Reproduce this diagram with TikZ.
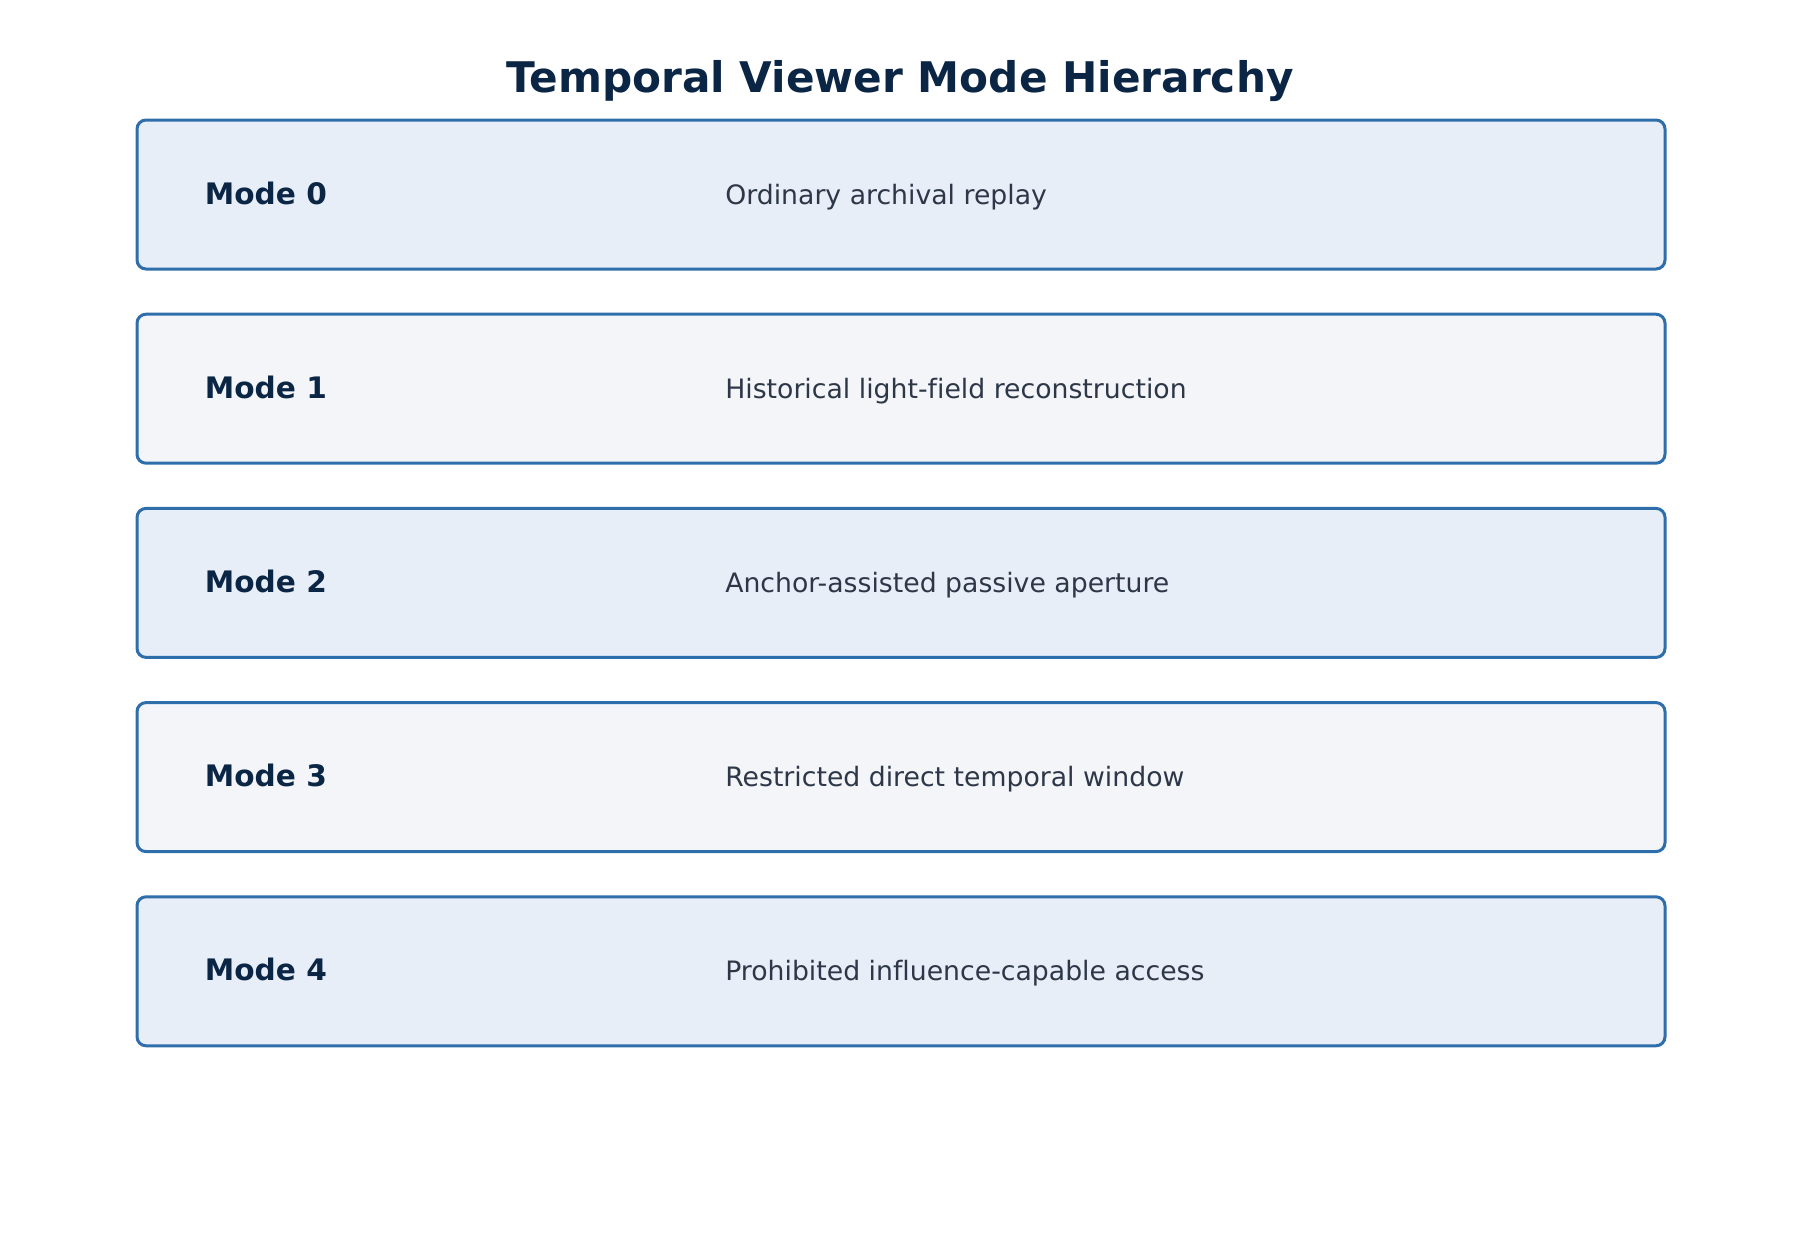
\documentclass[tikz,border=0pt]{standalone}
\usepackage{fontspec}
\setmainfont[Ligatures=NoCommon]{DejaVu Sans}
\usetikzlibrary{positioning}

\definecolor{titleblue}{HTML}{0B2545}
\definecolor{boxedge}{HTML}{2E6EAB}
\definecolor{fillA}{HTML}{E8EEF7}
\definecolor{fillB}{HTML}{F3F5F9}
\definecolor{desctext}{HTML}{2D3748}

\tikzset{
  modebox/.style={draw=boxedge, line width=1.5pt, rounded corners=4.5pt,
    minimum width=764pt, minimum height=74.5pt, inner sep=0pt},
  modelabel/.style={anchor=west, inner sep=0pt, text=titleblue,
    text height=0.71em, text depth=0em, yshift=-1.2pt,
    font=\fontsize{14.8}{17}\selectfont\bfseries},
  modedesc/.style={anchor=west, inner sep=0pt, text=desctext,
    text height=0.71em, text depth=0em, yshift=-1.2pt,
    font=\fontsize{13.35}{16}\selectfont}
}

\begin{document}
\begin{tikzpicture}[x=0.5pt,y=-0.5pt]
        \useasboundingbox (0,0) rectangle (1800,1254);
        % draw title
        \node[text=titleblue, font=\fontsize{21.1}{25}\selectfont\bfseries] (title) at (900,81.5) {Temporal Viewer Mode Hierarchy};
        % draw mode boxes
        \foreach \i/\fillc/\desc in {0/fillA/Ordinary archival replay,
                                     1/fillB/Historical light-field reconstruction,
                                     2/fillA/Anchor-assisted passive aperture,
                                     3/fillB/Restricted direct temporal window,
                                     4/fillA/Prohibited influence-capable access}{
          \node[modebox, fill=\fillc] (box\i) at (901,194.5+\i*194.2) {};
          \node[modelabel, right=34.5pt of box\i.west] (label\i) {Mode \i};
          \node[modedesc, right=294.7pt of box\i.west] (desc\i) {\desc};
        }
\end{tikzpicture}
\end{document}
